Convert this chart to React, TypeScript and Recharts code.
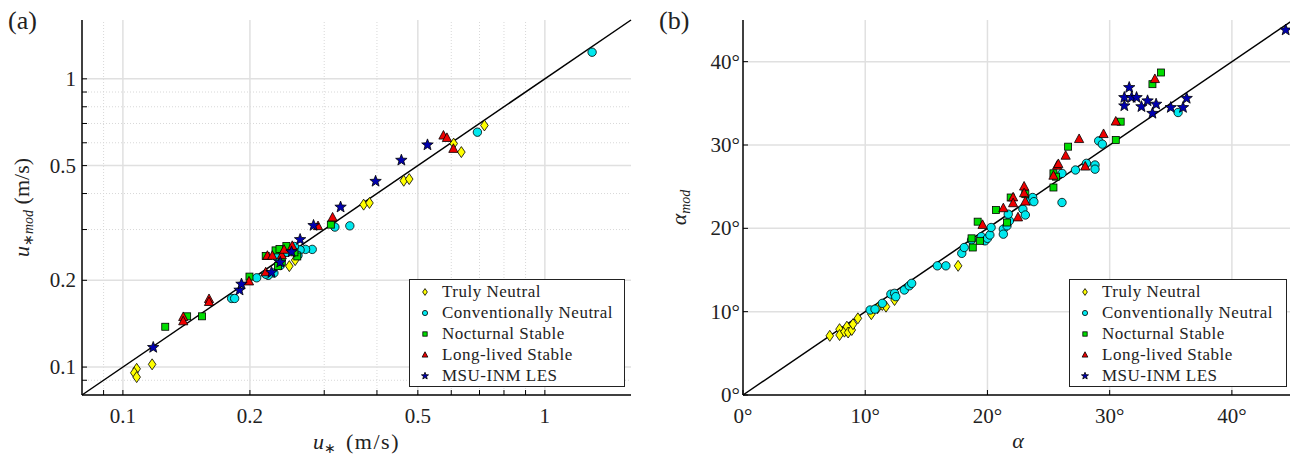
import React from 'react';
import { ScatterChart, Scatter, XAxis, YAxis, ReferenceLine, Legend, Label } from 'recharts';

const FONT = '"Liberation Serif", "Times New Roman", serif';

// panel (a): friction velocity, measured u* vs modelled u*mod (m/s)
const TN_U = [0.1078, 0.1064, 0.1078, 0.1173, 0.248, 0.256, 0.315, 0.372, 0.384, 0.463, 0.477, 0.608, 0.634, 0.719];
const TN_UMOD = [0.0986, 0.0955, 0.0923, 0.1022, 0.224, 0.235, 0.31, 0.366, 0.371, 0.443, 0.449, 0.596, 0.557, 0.689];
const CN_U = [1.294, 0.692, 0.345, 0.318, 0.281, 0.271, 0.263, 0.26, 0.255, 0.245, 0.236, 0.228, 0.221, 0.218, 0.2075, 0.181, 0.184, 0.232];
const CN_UMOD = [1.237, 0.653, 0.309, 0.306, 0.256, 0.256, 0.255, 0.244, 0.262, 0.25, 0.225, 0.212, 0.208, 0.21, 0.204, 0.173, 0.173, 0.24];
const NS_U = [0.126, 0.142, 0.154, 0.1995, 0.218, 0.23, 0.235, 0.244, 0.233, 0.238, 0.259, 0.311, 0.255];
const NS_UMOD = [0.138, 0.15, 0.15, 0.206, 0.243, 0.254, 0.257, 0.263, 0.224, 0.232, 0.242, 0.312, 0.25];
const LL_U = [0.139, 0.139, 0.16, 0.16, 0.199, 0.218, 0.22, 0.226, 0.238, 0.241, 0.252, 0.29, 0.314, 0.575, 0.586, 0.607];
const LL_UMOD = [0.149, 0.144, 0.172, 0.168, 0.198, 0.213, 0.243, 0.243, 0.244, 0.255, 0.263, 0.308, 0.33, 0.635, 0.623, 0.571];
const LES_U = [0.118, 0.189, 0.191, 0.225, 0.236, 0.251, 0.263, 0.283, 0.328, 0.397, 0.457, 0.527];
const LES_UMOD = [0.117, 0.185, 0.194, 0.213, 0.231, 0.251, 0.277, 0.31, 0.359, 0.441, 0.522, 0.59];

// panel (b): wind turning angle, measured alpha vs modelled alpha_mod (deg)
const TN_A = [7.1, 7.9, 7.9, 8.3, 8.5, 8.6, 8.9, 9.0, 9.4, 10.5, 11.0, 11.4, 11.7, 12.4, 17.6];
const TN_AMOD = [7.1, 7.9, 7.2, 7.6, 8.2, 7.5, 7.8, 8.5, 9.2, 9.7, 10.4, 10.8, 10.6, 11.4, 15.5];
const CN_A = [10.4, 10.8, 11.4, 12.1, 12.4, 12.5, 13.2, 13.6, 13.8, 15.9, 16.6, 17.9, 18.1, 18.7, 19.5, 19.8, 20.0, 20.2, 20.3, 21.3, 21.3, 21.6, 21.8, 21.7, 22.9, 23.1, 23.5, 23.7, 23.8, 26.1, 26.1, 27.2, 28.1, 28.8, 28.8, 29.1, 29.4, 35.6];
const CN_AMOD = [10.2, 10.3, 11.0, 12.1, 12.2, 11.8, 12.6, 13.1, 13.4, 15.5, 15.5, 17.0, 17.7, 18.6, 19.0, 18.5, 18.8, 19.2, 20.1, 19.9, 19.3, 20.3, 20.9, 21.7, 22.3, 21.6, 23.3, 23.7, 23.2, 23.1, 26.6, 27.0, 27.8, 27.6, 27.1, 30.5, 30.1, 33.9];
const NS_A = [18.7, 18.8, 19.4, 19.2, 20.7, 21.6, 21.9, 23.1, 25.4, 25.4, 25.6, 26.6, 30.5, 30.9, 33.5, 34.2];
const NS_AMOD = [18.8, 17.7, 18.5, 20.8, 22.2, 20.7, 23.7, 24.1, 24.9, 26.6, 26.2, 29.8, 30.6, 32.8, 37.3, 38.7];
const LL_A = [19.6, 21.3, 22.1, 22.1, 22.5, 23.0, 23.0, 23.1, 25.4, 25.7, 25.8, 26.4, 27.5, 28.0, 29.5, 30.5, 33.7];
const LL_AMOD = [20.4, 22.4, 23.7, 23.0, 21.3, 25.0, 24.2, 23.2, 26.3, 27.5, 27.7, 28.7, 30.7, 27.4, 31.3, 32.8, 37.9];
const LES_A = [31.2, 31.2, 31.6, 31.8, 32.2, 32.6, 33.1, 33.5, 33.8, 35.0, 36.0, 36.3, 44.4];
const LES_AMOD = [34.7, 35.7, 36.9, 35.7, 35.7, 34.6, 35.3, 33.8, 34.9, 34.5, 34.5, 35.6, 43.8];

const SERIES_NAMES = ['Truly Neutral', 'Conventionally Neutral', 'Nocturnal Stable', 'Long-lived Stable', 'MSU-INM LES'];
const SERIES_COLORS = ['#ffff00', '#00e8ee', '#00dd00', '#ee0000', '#0000b0'];
const SERIES_SHAPES = ['diamond', 'circle', 'square', 'triangle', 'star'];

const U_TICKS = [0.09, 0.1, 0.2, 0.3, 0.4, 0.5, 0.6, 0.7, 0.8, 0.9, 1];
const U_MAJOR = [0.1, 0.2, 0.5, 1];
const U_MINOR = [0.09, 0.3, 0.4, 0.6, 0.7, 0.8, 0.9];
const A_TICKS = [0, 10, 20, 30, 40];

const zip = (xs: number[], ys: number[]) => xs.map((x, i) => ({ x, y: ys[i] }));

const panelA = [zip(TN_U, TN_UMOD), zip(CN_U, CN_UMOD), zip(NS_U, NS_UMOD), zip(LL_U, LL_UMOD), zip(LES_U, LES_UMOD)];
const panelB = [zip(TN_A, TN_AMOD), zip(CN_A, CN_AMOD), zip(NS_A, NS_AMOD), zip(LL_A, LL_AMOD), zip(LES_A, LES_AMOD)];

function starPath(cx: number, cy: number, R: number) {
  const r = R * 0.42;
  let d = '';
  for (let i = 0; i < 10; i++) {
    const rad = i % 2 === 0 ? R : r;
    const a = -Math.PI / 2 + (i * Math.PI) / 5;
    d += (i === 0 ? 'M' : 'L') + (cx + rad * Math.cos(a)).toFixed(2) + ',' + (cy + rad * Math.sin(a)).toFixed(2);
  }
  return d + 'Z';
}

function Marker({ kind, cx, cy, s, fill }: any) {
  const common = { fill, stroke: '#000', strokeWidth: 0.8 };
  if (kind === 'diamond')
    return <path d={`M${cx},${cy - 5.5 * s}L${cx + 3.8 * s},${cy}L${cx},${cy + 5.5 * s}L${cx - 3.8 * s},${cy}Z`} {...common} />;
  if (kind === 'circle') return <circle cx={cx} cy={cy} r={4.2 * s} {...common} />;
  if (kind === 'square') return <rect x={cx - 3.5 * s} y={cy - 3.5 * s} width={7 * s} height={7 * s} {...common} />;
  if (kind === 'triangle')
    return <path d={`M${cx},${cy - 5.2 * s}L${cx + 4.6 * s},${cy + 3.4 * s}L${cx - 4.6 * s},${cy + 3.4 * s}Z`} {...common} />;
  return <path d={starPath(cx, cy, 6 * s)} {...common} />;
}

const shapeFor = (kind: string, fill: string) => (props: any) => (
  <Marker kind={kind} cx={props.cx} cy={props.cy} s={1} fill={fill} />
);

function LegendBox() {
  return (
    <div
      style={{
        border: '1.5px solid #222',
        background: '#fff',
        boxSizing: 'border-box',
        width: '100%',
        height: '100%',
        paddingTop: 1,
        fontFamily: FONT,
        fontSize: 17,
        letterSpacing: 0.5,
        color: '#222',
      }}
    >
      {SERIES_NAMES.map((name, i) => (
        <div key={name} style={{ display: 'flex', alignItems: 'center', height: 21 }}>
          <svg width={30} height={14} style={{ flex: 'none' }}>
            <Marker kind={SERIES_SHAPES[i]} cx={15} cy={7} s={0.62} fill={SERIES_COLORS[i]} />
          </svg>
          <span style={{ marginLeft: 2, whiteSpace: 'nowrap' }}>{name}</span>
        </div>
      ))}
    </div>
  );
}

const tickText = { fontFamily: FONT, fontSize: 21, fill: '#222' };

const UTickX = ({ x, y, payload }: any) => {
  const v = payload.value;
  const major = U_MAJOR.some(m => Math.abs(m - v) < 1e-9);
  return (
    <g>
      <line x1={x} y1={y} x2={x} y2={y - 5} stroke="#000" strokeWidth={1} />
      {major && <text x={x} y={y + 28} textAnchor="middle" {...tickText}>{String(v)}</text>}
    </g>
  );
};

const UTickY = ({ x, y, payload }: any) => {
  const v = payload.value;
  const major = U_MAJOR.some(m => Math.abs(m - v) < 1e-9);
  return (
    <g>
      <line x1={x} y1={y} x2={x + 5} y2={y} stroke="#000" strokeWidth={1} />
      {major && <text x={x - 6} y={y + 7} textAnchor="end" {...tickText}>{String(v)}</text>}
    </g>
  );
};

const ATickX = ({ x, y, payload }: any) => (
  <g>
    <line x1={x} y1={y} x2={x} y2={y - 5} stroke="#000" strokeWidth={1} />
    <text x={x} y={y + 28} textAnchor="middle" {...tickText}>{payload.value + '°'}</text>
  </g>
);

const ATickY = ({ x, y, payload }: any) => (
  <g>
    <line x1={x} y1={y} x2={x + 5} y2={y} stroke="#000" strokeWidth={1} />
    <text x={x - 3} y={y + 7} textAnchor="end" {...tickText}>{payload.value + '°'}</text>
  </g>
);

const titleText = { fontFamily: FONT, fontSize: 22, fill: '#222' };

const UTitleX = ({ viewBox }: any) => (
  <text x={viewBox.x + viewBox.width / 2} y={viewBox.y + 54} textAnchor="middle" {...titleText}>
    <tspan fontStyle="italic">u</tspan>
    <tspan fontSize={14} dy={4}>∗</tspan>
    <tspan dy={-4} dx={10} letterSpacing={1.5}>(m/s)</tspan>
  </text>
);

const UTitleY = ({ viewBox }: any) => {
  const x = viewBox.x + 29;
  const y = viewBox.y + viewBox.height / 2;
  return (
    <text x={x} y={y} textAnchor="middle" transform={`rotate(-90, ${x}, ${y})`} {...titleText}>
      <tspan fontStyle="italic">u</tspan>
      <tspan fontSize={14} dy={4}>∗</tspan>
      <tspan fontSize={14} fontStyle="italic">mod</tspan>
      <tspan dy={-4}>{'  (m/s)'}</tspan>
    </text>
  );
};

const ATitleX = ({ viewBox }: any) => (
  <text x={viewBox.x + viewBox.width / 2} y={viewBox.y + 53} textAnchor="middle" {...titleText} fontStyle="italic">
    α
  </text>
);

const ATitleY = ({ viewBox }: any) => {
  const x = viewBox.x + 36;
  const y = viewBox.y + viewBox.height / 2;
  return (
    <text x={x} y={y} textAnchor="middle" transform={`rotate(-90, ${x}, ${y})`} {...titleText}>
      <tspan fontStyle="italic">α</tspan>
      <tspan fontSize={14} fontStyle="italic" dy={4}>mod</tspan>
    </text>
  );
};

const axisLine = { stroke: '#000', strokeWidth: 1.5 };
const majorGrid = { stroke: '#e0e0e0', strokeWidth: 1.5 };
const minorGrid = { stroke: '#d8d8d8', strokeWidth: 1, strokeDasharray: '1 2' };

function renderSeries(sets: { x: number; y: number }[][]) {
  return sets.map((data, i) => (
    <Scatter
      key={SERIES_NAMES[i]}
      name={SERIES_NAMES[i]}
      data={data}
      fill={SERIES_COLORS[i]}
      shape={shapeFor(SERIES_SHAPES[i], SERIES_COLORS[i])}
      isAnimationActive={false}
    />
  ));
}

const panelLetter = { position: 'absolute' as const, top: 6, fontFamily: FONT, fontSize: 26, color: '#222' };

export default function App() {
  return (
    <div style={{ position: 'fixed', left: 0, top: 0, width: 1290, height: 455, overflow: 'hidden', background: '#fff' }}>
      <div style={{ ...panelLetter, left: 8 }}>(a)</div>
      <div style={{ ...panelLetter, left: 659 }}>(b)</div>

      <div style={{ position: 'absolute', left: 0, top: 0 }}>
        <ScatterChart width={640} height={455} margin={{ top: 20, right: 9, bottom: 0, left: 0 }}>
          <XAxis
            type="number"
            dataKey="x"
            scale="log"
            domain={[0.08, 1.6]}
            allowDataOverflow
            ticks={U_TICKS}
            interval={0}
            tick={<UTickX />}
            tickSize={0}
            tickMargin={0}
            tickLine={false}
            axisLine={axisLine}
            height={60}
          >
            <Label content={<UTitleX />} />
          </XAxis>
          <YAxis
            type="number"
            dataKey="y"
            scale="log"
            domain={[0.08, 1.6]}
            allowDataOverflow
            ticks={U_TICKS}
            interval={0}
            tick={<UTickY />}
            tickSize={0}
            tickMargin={0}
            tickLine={false}
            axisLine={axisLine}
            width={82}
          >
            <Label content={<UTitleY />} />
          </YAxis>
          {U_MINOR.map(v => <ReferenceLine key={'mx' + v} x={v} {...minorGrid} />)}
          {U_MINOR.map(v => <ReferenceLine key={'my' + v} y={v} {...minorGrid} />)}
          {U_MAJOR.map(v => <ReferenceLine key={'Mx' + v} x={v} {...majorGrid} />)}
          {U_MAJOR.map(v => <ReferenceLine key={'My' + v} y={v} {...majorGrid} />)}
          <ReferenceLine segment={[{ x: 0.08, y: 0.08 }, { x: 1.6, y: 1.6 }]} stroke="#000" strokeWidth={1.5} />
          {renderSeries(panelA)}
          <Legend
            layout="vertical"
            align="center"
            verticalAlign="middle"
            wrapperStyle={{ left: 409, top: 279, width: 216, height: 108 }}
            content={() => <LegendBox />}
          />
        </ScatterChart>
      </div>

      <div style={{ position: 'absolute', left: 650, top: 0 }}>
        <ScatterChart width={650} height={455} margin={{ top: 20, right: 7, bottom: 0, left: 0 }}>
          <XAxis
            type="number"
            dataKey="x"
            domain={[0, 45]}
            allowDataOverflow
            ticks={A_TICKS}
            interval={0}
            tick={<ATickX />}
            tickSize={0}
            tickMargin={0}
            tickLine={false}
            axisLine={axisLine}
            height={60}
          >
            <Label content={<ATitleX />} />
          </XAxis>
          <YAxis
            type="number"
            dataKey="y"
            domain={[0, 45]}
            allowDataOverflow
            ticks={A_TICKS}
            interval={0}
            tick={<ATickY />}
            tickSize={0}
            tickMargin={0}
            tickLine={false}
            axisLine={axisLine}
            width={93}
          >
            <Label content={<ATitleY />} />
          </YAxis>
          {A_TICKS.slice(1).map(v => <ReferenceLine key={'x' + v} x={v} {...majorGrid} />)}
          {A_TICKS.slice(1).map(v => <ReferenceLine key={'y' + v} y={v} {...majorGrid} />)}
          <ReferenceLine segment={[{ x: 0, y: 0 }, { x: 45, y: 45 }]} stroke="#000" strokeWidth={1.5} />
          {renderSeries(panelB)}
          <Legend
            layout="vertical"
            align="center"
            verticalAlign="middle"
            wrapperStyle={{ left: 419, top: 279, width: 218, height: 108 }}
            content={() => <LegendBox />}
          />
        </ScatterChart>
      </div>
    </div>
  );
}
